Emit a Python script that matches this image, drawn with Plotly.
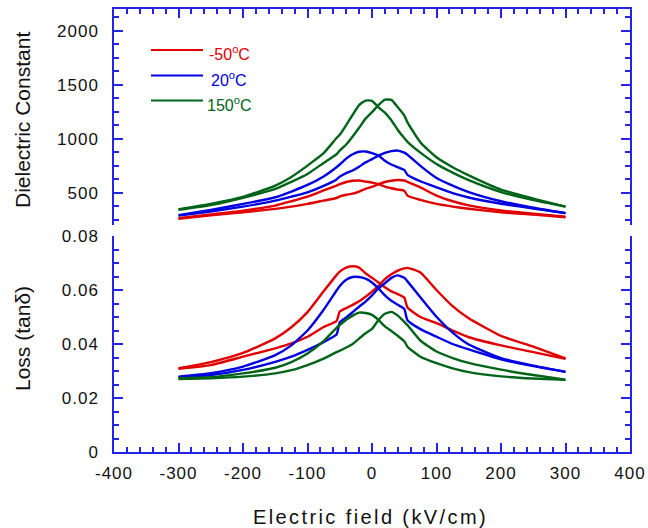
import plotly.graph_objects as go

# ---------------- data ----------------
field = [-300, -250, -200, -150, -125, -100, -75, -55, -50, -40, -30, -20, -10, 0,
         10, 20, 30, 40, 50, 55, 75, 100, 125, 150, 200, 250, 300]

# Dielectric constant, branch A (peak at negative field) and branch B (peak at positive field)
eps_m50_A = [262, 298, 333, 380, 420, 463, 520, 565, 578, 598, 610, 612, 602, 592,
             578, 555, 540, 528, 518, 472, 432, 395, 370, 350, 318, 297, 272]
eps_m50_B = [258, 290, 318, 349, 370, 395, 426, 450, 465, 480, 490, 510, 535, 552,
             578, 598, 610, 616, 612, 600, 549, 472, 420, 382, 335, 305, 278]
eps_20_A = [292, 340, 395, 457, 510, 571, 650, 735, 760, 815, 855, 878, 880, 865,
            843, 795, 760, 735, 710, 665, 605, 549, 495, 455, 397, 352, 310]
eps_20_B = [287, 325, 370, 426, 463, 503, 562, 622, 648, 680, 705, 740, 780, 810,
            843, 868, 884, 889, 870, 850, 748, 636, 565, 505, 420, 360, 310]
eps_150_A = [345, 395, 460, 565, 645, 750, 865, 1005, 1035, 1125, 1220, 1310, 1352, 1350,
             1290, 1240, 1170, 1080, 1005, 970, 870, 765, 685, 615, 505, 430, 370]
eps_150_B = [340, 385, 452, 534, 600, 673, 775, 855, 890, 945, 1020, 1100, 1185, 1245,
             1310, 1360, 1358, 1290, 1215, 1150, 965, 827, 735, 660, 528, 445, 370]

# Loss (tan delta)
tan_m50_A = [0.0310, 0.0333, 0.0367, 0.0421, 0.0462, 0.0518, 0.0595, 0.0655, 0.0668, 0.0683,
             0.0688, 0.0683, 0.0662, 0.0645, 0.0628, 0.0610, 0.0595, 0.0585, 0.0572, 0.0535,
             0.0500, 0.0477, 0.0450, 0.0425, 0.0395, 0.0370, 0.0345]
tan_m50_B = [0.0308, 0.0322, 0.0353, 0.0384, 0.0402, 0.0427, 0.0463, 0.0485, 0.0520, 0.0533,
             0.0545, 0.0558, 0.0575, 0.0594, 0.0615, 0.0640, 0.0658, 0.0672, 0.0680, 0.0682,
             0.0665, 0.0600, 0.0540, 0.0495, 0.0430, 0.0390, 0.0347]
tan_20_A = [0.0279, 0.0292, 0.0316, 0.0359, 0.0395, 0.0450, 0.0527, 0.0598, 0.0615, 0.0638,
            0.0648, 0.0648, 0.0642, 0.0628, 0.0606, 0.0580, 0.0560, 0.0545, 0.0530, 0.0488,
            0.0455, 0.0427, 0.0400, 0.0380, 0.0343, 0.0318, 0.0297]
tan_20_B = [0.0276, 0.0285, 0.0304, 0.0334, 0.0353, 0.0378, 0.0407, 0.0435, 0.0480, 0.0498,
            0.0518, 0.0538, 0.0557, 0.0580, 0.0606, 0.0625, 0.0645, 0.0654, 0.0645, 0.0632,
            0.0573, 0.0501, 0.0442, 0.0398, 0.0348, 0.0320, 0.0297]
tan_150_A = [0.0273, 0.0277, 0.0291, 0.0312, 0.0333, 0.0365, 0.0411, 0.0460, 0.0470, 0.0490,
             0.0505, 0.0516, 0.0515, 0.0508, 0.0489, 0.0465, 0.0448, 0.0430, 0.0410, 0.0390,
             0.0353, 0.0329, 0.0310, 0.0296, 0.0280, 0.0272, 0.0267]
tan_150_B = [0.0270, 0.0273, 0.0279, 0.0291, 0.0303, 0.0322, 0.0346, 0.0370, 0.0375, 0.0387,
             0.0400, 0.0420, 0.0440, 0.0456, 0.0489, 0.0512, 0.0519, 0.0505, 0.0482, 0.0470,
             0.0413, 0.0372, 0.0348, 0.0330, 0.0305, 0.0285, 0.0268]

series_labels = ["-50<sup>o</sup>C", "20<sup>o</sup>C", "150<sup>o</sup>C"]
x_ticks = [-400, -300, -200, -100, 0, 100, 200, 300, 400]
x_tick_text = ["-400", "-300", "-200", "-100", "0", "100", "200", "300", "400"]
eps_ticks = [500, 1000, 1500, 2000]
eps_tick_text = ["500", "1000", "1500", "2000"]
tan_ticks = [0, 0.02, 0.04, 0.06, 0.08]
tan_tick_text = ["0", "0.02", "0.04", "0.06", "0.08"]

# ---------------- styling ----------------
colors = ["#e00000", "#0000e0", "#006418"]
axis_col = "#2424e6"
FONT = "Liberation Sans, Arial, sans-serif"
LW = 2.4


def spaced(t, sp=1.0):
    return '<span style="letter-spacing:%spx">%s</span>' % (sp, t)


eps_sets = [(eps_m50_A, eps_m50_B), (eps_20_A, eps_20_B), (eps_150_A, eps_150_B)]
tan_sets = [(tan_m50_A, tan_m50_B), (tan_20_A, tan_20_B), (tan_150_A, tan_150_B)]

fig = go.Figure()
for (a, b), c in zip(eps_sets, colors):
    for yy in (a, b):
        fig.add_trace(go.Scatter(x=field, y=yy, mode="lines", xaxis="x2", yaxis="y2",
                                 line=dict(color=c, width=LW, shape="spline", smoothing=0.5),
                                 showlegend=False))
for (a, b), c in zip(tan_sets, colors):
    for yy in (a, b):
        fig.add_trace(go.Scatter(x=field, y=yy, mode="lines", xaxis="x", yaxis="y",
                                 line=dict(color=c, width=LW, shape="spline", smoothing=0.5),
                                 showlegend=False))

W, H = 648, 528
ML, MR, MT, MB = 114, 18, 9, 76
PW, PH = W - ML - MR, H - MT - MB
panel_h = 216 / PH


def px(xp):
    return (xp - ML) / PW


def py(yp):
    return (H - MB - yp) / PH


common = dict(showline=True, linecolor=axis_col, linewidth=1.5, ticks="inside",
              tickcolor=axis_col, tickwidth=1.5, ticklen=9, showgrid=False, zeroline=False,
              automargin=False,
              tickfont=dict(family=FONT, size=17, color="#111111"))
minor_common = dict(ticks="inside", ticklen=5, tickcolor=axis_col, tickwidth=1.5)

fig.update_layout(
    width=W, height=H,
    margin=dict(l=ML, r=MR, t=MT, b=MB, pad=0, autoexpand=False),
    paper_bgcolor="white", plot_bgcolor="white",
    showlegend=False,
    xaxis=dict(anchor="y", domain=[0, 1], range=[-400, 400], tickvals=x_ticks,
               ticktext=[spaced(t) for t in x_tick_text],
               minor=dict(dtick=20, tick0=0, **minor_common),
               ticklabelstandoff=5, **common),
    xaxis2=dict(anchor="y2", domain=[0, 1], range=[-400, 400], matches="x", side="top",
                tickvals=x_ticks, showticklabels=False,
                minor=dict(dtick=20, tick0=0, **minor_common),
                **common),
    yaxis=dict(anchor="x", domain=[0, panel_h], range=[0, 0.08], tickvals=tan_ticks,
               ticktext=[spaced(t) for t in tan_tick_text], mirror="ticks",
               minor=dict(dtick=0.005, tick0=0, **minor_common),
               ticklabelstandoff=10, **common),
    yaxis2=dict(anchor="x2", domain=[1 - panel_h, 1], range=[200, 2200], tickvals=eps_ticks,
                ticktext=[spaced(t) for t in eps_tick_text], mirror="ticks",
                minor=dict(dtick=125, tick0=0, **minor_common),
                ticklabelstandoff=10, **common),
)

# axis titles
fig.add_annotation(x=px(370), y=py(517), xref="paper", yref="paper", showarrow=False,
                   text=spaced("Electric field (kV/cm)", 2.4),
                   font=dict(family=FONT, size=20, color="#111111"),
                   xanchor="center", yanchor="middle")
fig.add_annotation(x=px(22), y=py(120), xref="paper", yref="paper", showarrow=False,
                   text="Dielectric Constant", textangle=-90,
                   font=dict(family=FONT, size=21, color="#111111"),
                   xanchor="center", yanchor="middle")
fig.add_annotation(x=px(22), y=py(339), xref="paper", yref="paper", showarrow=False,
                   text="Loss (tan\u03b4)", textangle=-90,
                   font=dict(family=FONT, size=21, color="#111111"),
                   xanchor="center", yanchor="middle")

# custom legend
leg_y = [50, 75.5, 100.5]
for lbl, c, yy in zip(series_labels, colors, leg_y):
    fig.add_shape(type="line", xref="paper", yref="paper", x0=px(151), x1=px(203),
                  y0=py(yy), y1=py(yy), line=dict(color=c, width=2.2))
    fig.add_annotation(x=px(229), y=py(yy + 3), xref="paper", yref="paper", showarrow=False,
                       text=lbl, font=dict(family=FONT, size=16, color=c),
                       xanchor="center", yanchor="middle")

fig.write_html("out.html")
